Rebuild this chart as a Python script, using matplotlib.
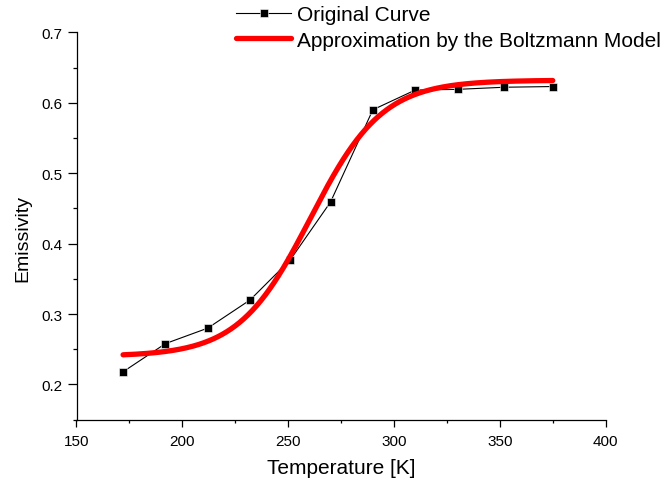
import numpy as np
import matplotlib
matplotlib.use("Agg")
import matplotlib.pyplot as plt
from matplotlib.ticker import MultipleLocator

plt.rcParams['font.family'] = ['Liberation Sans', 'DejaVu Sans']

# Measured emissivity versus temperature
temperature = [172, 192, 212, 232, 251, 270, 290, 310, 330, 352, 375]
emissivity = [0.218, 0.258, 0.280, 0.320, 0.377, 0.459, 0.590, 0.618, 0.619, 0.622, 0.623]

# Boltzmann sigmoid parameters: y = A2 + (A1 - A2) / (1 + exp((T - T0) / dT))
A1 = 0.240
A2 = 0.632
T0 = 260.5
dT = 17.0

x_ticks = [150, 200, 250, 300, 350, 400]
y_ticks = [0.2, 0.3, 0.4, 0.5, 0.6, 0.7]

t_fit = np.linspace(min(temperature), max(temperature), 400)
y_fit = A2 + (A1 - A2) / (1.0 + np.exp((t_fit - T0) / dT))

fig = plt.figure(figsize=(6.61, 4.85), dpi=100)
ax = fig.add_axes([76.5 / 661, 1 - 420.7 / 485, (605.7 - 76.5) / 661, (420.7 - 33.3) / 485])

ax.plot(temperature, emissivity, color='black', lw=0.8, marker='s', ms=6,
        mfc='black', mec='white', mew=0.4, label='Original Curve', zorder=2)
ax.plot(t_fit, y_fit, color='#ff0000', lw=3.8, solid_capstyle='round',
        label='Approximation by the Boltzmann Model', zorder=3)

ax.set_xlim(150, 400)
ax.set_ylim(0.15, 0.7)
ax.set_xticks(x_ticks)
ax.set_yticks(y_ticks)
ax.xaxis.set_minor_locator(MultipleLocator(25))
ax.yaxis.set_minor_locator(MultipleLocator(0.05))

for side in ('top', 'right'):
    ax.spines[side].set_visible(False)
for side in ('left', 'bottom'):
    ax.spines[side].set_linewidth(0.9)

ax.tick_params(axis='both', which='both', direction='out', width=0.9, labelsize=11)
ax.tick_params(axis='x', which='major', length=5, pad=5)
ax.tick_params(axis='x', which='minor', length=2.5)
ax.tick_params(axis='y', which='major', length=6.3, pad=4)
ax.tick_params(axis='y', which='minor', length=3)

ax.set_xlabel('Temperature [K]', fontsize=15)
ax.set_ylabel('Emissivity', fontsize=14)
ax.xaxis.set_label_coords(0.5, -0.1)
ax.yaxis.set_label_coords(-0.086, 0.47)

fig.legend(loc='upper left', bbox_to_anchor=(236 / 661, 1 - 6 / 485),
           frameon=False, fontsize=15, handlelength=2.65, handletextpad=0.3,
           borderpad=0, borderaxespad=0, labelspacing=0.32)

fig.savefig('out.png', dpi=100)
